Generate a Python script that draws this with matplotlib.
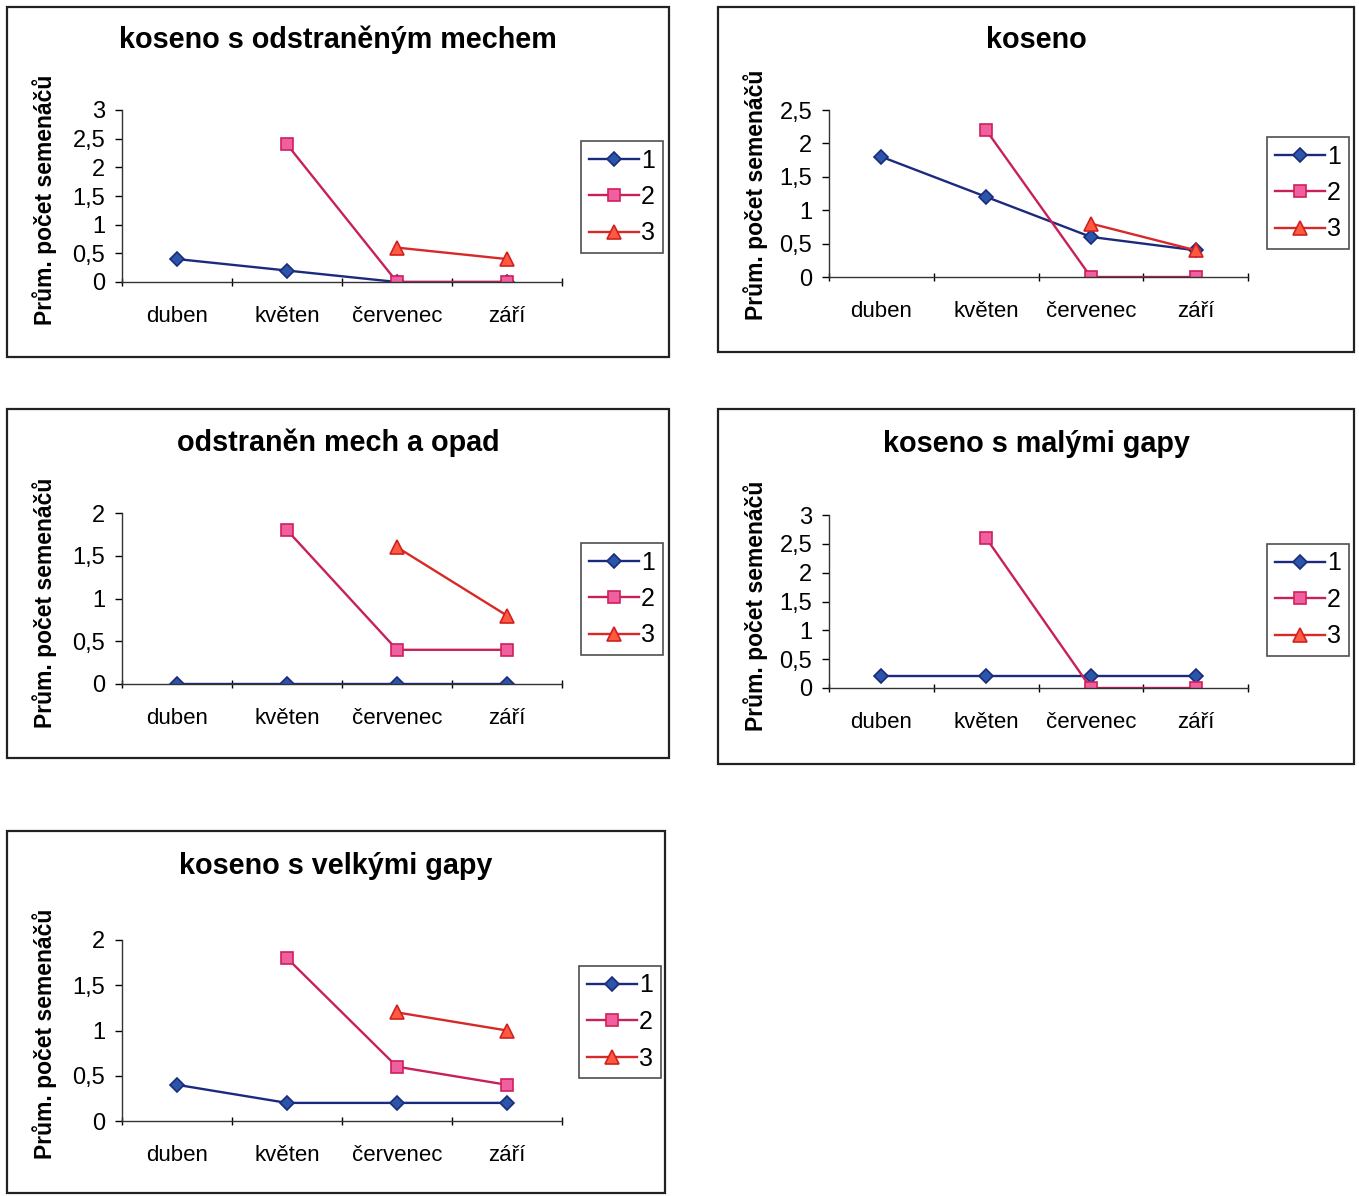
import numpy as np
import matplotlib.pyplot as plt
from matplotlib.patches import Rectangle

plt.rcParams['font.family'] = ['Liberation Sans', 'DejaVu Sans']

# data
months = ['duben', 'květen', 'červenec', 'září']
nan = np.nan

mech_1 = [0.4, 0.2, 0, 0]
mech_2 = [nan, 2.4, 0, 0]
mech_3 = [nan, nan, 0.6, 0.4]

kos_1 = [1.8, 1.2, 0.6, 0.4]
kos_2 = [nan, 2.2, 0, 0]
kos_3 = [nan, nan, 0.8, 0.4]

opad_1 = [0, 0, 0, 0]
opad_2 = [nan, 1.8, 0.4, 0.4]
opad_3 = [nan, nan, 1.6, 0.8]

male_1 = [0.2, 0.2, 0.2, 0.2]
male_2 = [nan, 2.6, 0, 0]
male_3 = [nan, nan, nan, nan]

velke_1 = [0.4, 0.2, 0.2, 0.2]
velke_2 = [nan, 1.8, 0.6, 0.4]
velke_3 = [nan, nan, 1.2, 1.0]

titles = ['koseno s odstraněným mechem', 'koseno', 'odstraněn mech a opad',
          'koseno s malými gapy', 'koseno s velkými gapy']
series = [(mech_1, mech_2, mech_3), (kos_1, kos_2, kos_3), (opad_1, opad_2, opad_3),
          (male_1, male_2, male_3), (velke_1, velke_2, velke_3)]
ymax = [3, 2.5, 2, 3, 2]
ylabel = 'Prům. počet semenáčů'

W, H = 1359, 1196
fig = plt.figure(figsize=(W / 100, H / 100), dpi=100)

# rámečky, osy, legendy a popisky v pixelech
boxes = [(7, 7, 669, 357), (718, 7, 1354, 352), (7, 409, 669, 758),
         (718, 409, 1354, 764), (7, 831, 665, 1193)]
axes_px = [(122, 110, 562, 282), (829, 110, 1248, 277), (122, 513, 562, 684),
           (829, 515, 1248, 688), (122, 940, 562, 1121)]
legend_px = [(581, 141), (1267, 137), (581, 543), (1267, 544), (579, 966)]
title_y = [40, 40, 443, 444, 866]
ylabel_pos = [(45, 200), (756, 195), (45, 603), (756, 606), (45, 1034)]

styles = [
    dict(color='#1c2a7e', marker='D', ms=7, mfc='#2a55a8', mec='#1c2a7e'),
    dict(color='#c8205a', marker='s', ms=8.5, mfc='#f060a0', mec='#d0205a'),
    dict(color='#d82828', marker='^', ms=9.5, mfc='#ff5a40', mec='#d02020'),
]


def fx(x):
    return x / W


def fy(y):
    return 1 - y / H


def fmt(v):
    return ('%g' % v).replace('.', ',')


x = np.arange(len(months))
for i in range(5):
    bx0, by0, bx1, by1 = boxes[i]
    fig.patches.append(Rectangle((fx(bx0), fy(by1)), fx(bx1 - bx0), (by1 - by0) / H,
                                 transform=fig.transFigure, fill=False,
                                 edgecolor='#222222', linewidth=1.6))

    l, t, r, b = axes_px[i]
    ax = fig.add_axes([fx(l), fy(b), fx(r - l), (b - t) / H])
    handles = []
    for vals, st, name in zip(series[i], styles, ['1', '2', '3']):
        h, = ax.plot(x, vals, lw=1.7, mew=1.2, label=name, **st)
        handles.append(h)

    ax.set_xlim(-0.5, len(months) - 0.5)
    ax.set_ylim(0, ymax[i])
    yt = np.arange(0, ymax[i] + 0.01, 0.5)
    ax.set_yticks(yt)
    ax.set_yticklabels([fmt(v) for v in yt])
    ax.set_xticks(x)
    ax.set_xticklabels(months)
    ax.set_xticks(np.arange(-0.5, len(months)), minor=True)
    ax.tick_params(axis='x', which='major', length=0, pad=17, labelsize=16)
    ax.tick_params(axis='x', which='minor', length=6, direction='inout', width=1)
    ax.tick_params(axis='y', length=5, direction='out', pad=7, labelsize=17, width=1)
    for s in ['top', 'right']:
        ax.spines[s].set_visible(False)
    for s in ['left', 'bottom']:
        ax.spines[s].set_color('#333333')
        ax.spines[s].set_linewidth(1)
    ax.patch.set_alpha(0)

    fig.text(fx((bx0 + bx1) / 2), fy(title_y[i]), titles[i], ha='center', va='center',
             fontsize=20.7, fontweight='bold')
    fig.text(fx(ylabel_pos[i][0]), fy(ylabel_pos[i][1]), ylabel, rotation=90,
             ha='center', va='center', fontsize=16.5, fontweight='bold')

    lx, ly = legend_px[i]
    leg = ax.legend(handles=handles, loc='upper left', bbox_to_anchor=(fx(lx), fy(ly)),
                    bbox_transform=fig.transFigure, frameon=True, fancybox=False,
                    fontsize=18, handlelength=2.0, handletextpad=0.1,
                    labelspacing=0.5, borderpad=0.3, borderaxespad=0)
    leg.get_frame().set_edgecolor('#222222')
    leg.get_frame().set_linewidth(1.2)

fig.savefig('out.png', dpi=100)
